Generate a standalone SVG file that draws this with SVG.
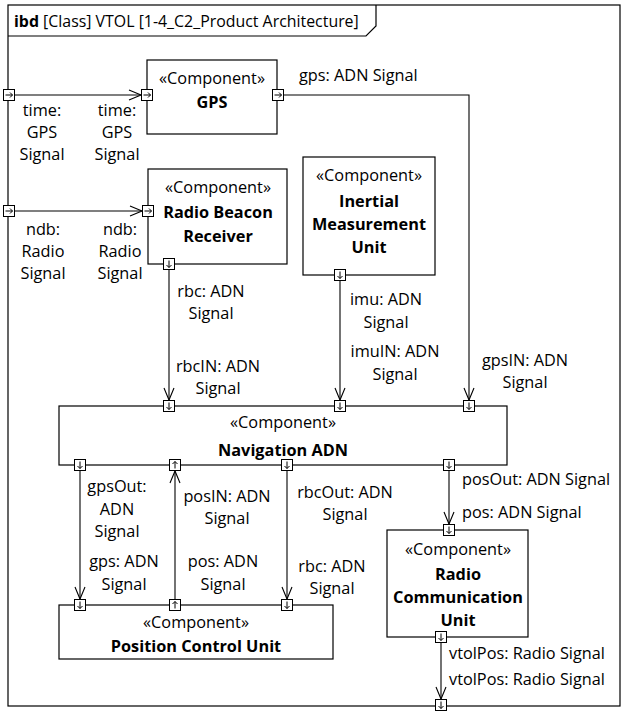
<svg xmlns="http://www.w3.org/2000/svg" xmlns:xlink="http://www.w3.org/1999/xlink" width="624" height="712" viewBox="0 0 624 712">
<style>
text{font-family:"Open Sans","Noto Sans","DejaVu Sans",sans-serif;font-size:16.3px;fill:#000}
.m{text-anchor:middle}
.b{font-weight:bold}
.box{fill:#fff;stroke:#000;stroke-width:1.2}
.port{fill:#fff;stroke:#000;stroke-width:1}
.pa{fill:none;stroke:#000;stroke-width:1}
.c{fill:none;stroke:#000;stroke-width:1.1;marker-end:url(#arr)}
.title{font-size:15.9px}
</style>
<defs>
<marker id="arr" markerUnits="userSpaceOnUse" markerWidth="14" markerHeight="12" refX="12" refY="5" orient="auto" overflow="visible">
<path d="M0,0 L12,5 L0,10" fill="none" stroke="#000" stroke-width="1.1"/>
</marker>
<g id="pR"><rect class="port" x="0.5" y="0.5" width="11" height="11"/><path class="pa" d="M2.5,6 H9.5 M7,3.5 L9.5,6 L7,8.5"/></g>
<g id="pD"><rect class="port" x="0.5" y="0.5" width="11" height="11"/><path class="pa" d="M6,2.5 V9.5 M3.5,7 L6,9.5 L8.5,7"/></g>
<g id="pU"><rect class="port" x="0.5" y="0.5" width="11" height="11"/><path class="pa" d="M6,9.5 V2.5 M3.5,5 L6,2.5 L8.5,5"/></g>
</defs>
<rect width="624" height="712" fill="#fff"/>
<g id="frame">
<rect x="8" y="5" width="612" height="701" fill="none" stroke="#000" stroke-width="1.2"/>
<path d="M8,36 H366 L376,26 V5" fill="none" stroke="#000" stroke-width="1.2"/>
<text class="title" x="14" y="27"><tspan class="b">ibd</tspan> [Class] VTOL [1-4_C2_Product Architecture]</text>
<use xlink:href="#pR" x="3" y="89"/>
<use xlink:href="#pR" x="3" y="205"/>
<use xlink:href="#pD" x="435" y="699"/>
</g>
<g id="connectors">
<path class="c" d="M15,95 H141"/>
<path class="c" d="M15,211 H142"/>
<path class="c" d="M284,95 H469 V400"/>
<path class="c" d="M169,270 V400"/>
<path class="c" d="M340,281 V400"/>
<path class="c" d="M80,471 V599"/>
<path class="c" d="M175,599 V471"/>
<path class="c" d="M287,471 V599"/>
<path class="c" d="M449,471 V524"/>
<path class="c" d="M441,643 V699"/>
<g id="labels">
<text class="m" x="42" y="116">time:</text><text class="m" x="42" y="138">GPS</text><text class="m" x="42" y="160">Signal</text>
<text class="m" x="117" y="116">time:</text><text class="m" x="117" y="138">GPS</text><text class="m" x="117" y="160">Signal</text>
<text x="299" y="81">gps: ADN Signal</text>
<text class="m" x="43" y="235">ndb:</text><text class="m" x="43" y="257">Radio</text><text class="m" x="43" y="279">Signal</text>
<text class="m" x="120" y="235">ndb:</text><text class="m" x="120" y="257">Radio</text><text class="m" x="120" y="279">Signal</text>
<text class="m" x="211" y="297">rbc: ADN</text><text class="m" x="211" y="319">Signal</text>
<text class="m" x="218" y="372">rbcIN: ADN</text><text class="m" x="218" y="394">Signal</text>
<text class="m" x="386" y="305">imu: ADN</text><text class="m" x="386" y="328">Signal</text>
<text class="m" x="395" y="357">imuIN: ADN</text><text class="m" x="395" y="380">Signal</text>
<text class="m" x="525" y="366">gpsIN: ADN</text><text class="m" x="525" y="388">Signal</text>
<text class="m" x="117" y="492">gpsOut:</text><text class="m" x="117" y="515">ADN</text><text class="m" x="117" y="537">Signal</text>
<text class="m" x="227" y="502">posIN: ADN</text><text class="m" x="227" y="524">Signal</text>
<text class="m" x="345" y="498">rbcOut: ADN</text><text class="m" x="345" y="520">Signal</text>
<text x="462" y="485">posOut: ADN Signal</text>
<text x="462" y="518">pos: ADN Signal</text>
<text class="m" x="124" y="567">gps: ADN</text><text class="m" x="124" y="590">Signal</text>
<text class="m" x="223" y="567">pos: ADN</text><text class="m" x="223" y="590">Signal</text>
<text class="m" x="332" y="572">rbc: ADN</text><text class="m" x="332" y="594">Signal</text>
<text x="449" y="659">vtolPos: Radio Signal</text>
<text x="449" y="685">vtolPos: Radio Signal</text>
</g>
</g>
<g id="gps">
<rect class="box" x="147" y="60" width="130" height="74"/>
<text class="m" x="212" y="84">«Component»</text>
<text class="m b" x="212" y="108">GPS</text>
<use xlink:href="#pR" x="141" y="89"/>
<use xlink:href="#pR" x="272" y="89"/>
</g>
<g id="radio-beacon-receiver">
<rect class="box" x="148" y="169" width="139" height="95"/>
<text class="m" x="218" y="193">«Component»</text>
<text class="m b" x="218" y="218">Radio Beacon</text>
<text class="m b" x="218" y="242">Receiver</text>
<use xlink:href="#pR" x="142" y="205"/>
<use xlink:href="#pD" x="163" y="258"/>
</g>
<g id="inertial-measurement-unit">
<rect class="box" x="303" y="157" width="132" height="118"/>
<text class="m" x="369" y="181">«Component»</text>
<text class="m b" x="369" y="207">Inertial</text>
<text class="m b" x="369" y="230">Measurement</text>
<text class="m b" x="369" y="253">Unit</text>
<use xlink:href="#pD" x="334" y="269"/>
</g>
<g id="navigation-adn">
<rect class="box" x="59" y="406" width="448" height="59"/>
<text class="m" x="283" y="428">«Component»</text>
<text class="m b" x="283" y="456">Navigation ADN</text>
<use xlink:href="#pD" x="163" y="400"/>
<use xlink:href="#pD" x="334" y="400"/>
<use xlink:href="#pD" x="463" y="400"/>
<use xlink:href="#pD" x="74" y="459"/>
<use xlink:href="#pU" x="169" y="459"/>
<use xlink:href="#pD" x="281" y="459"/>
<use xlink:href="#pD" x="443" y="459"/>
</g>
<g id="position-control-unit">
<rect class="box" x="59" y="605" width="274" height="54"/>
<text class="m" x="196" y="628">«Component»</text>
<text class="m b" x="196" y="652">Position Control Unit</text>
<use xlink:href="#pD" x="74" y="599"/>
<use xlink:href="#pU" x="169" y="599"/>
<use xlink:href="#pD" x="281" y="599"/>
</g>
<g id="radio-communication-unit">
<rect class="box" x="387" y="530" width="141" height="107"/>
<text class="m" x="458" y="555">«Component»</text>
<text class="m b" x="458" y="580">Radio</text>
<text class="m b" x="458" y="603">Communication</text>
<text class="m b" x="458" y="626">Unit</text>
<use xlink:href="#pD" x="443" y="524"/>
<use xlink:href="#pD" x="435" y="631"/>
</g>
</svg>
